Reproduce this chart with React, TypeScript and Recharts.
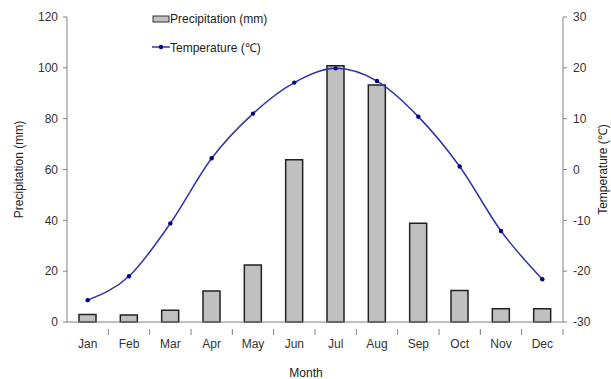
import { ComposedChart, Bar, Line, XAxis, YAxis } from "recharts";

const months = ["Jan", "Feb", "Mar", "Apr", "May", "Jun", "Jul", "Aug", "Sep", "Oct", "Nov", "Dec"];
const precipitation = [3.0, 2.8, 4.6, 12.2, 22.4, 63.8, 100.8, 93.2, 38.9, 12.4, 5.2, 5.2];
const temperature = [-25.7, -21.0, -10.6, 2.2, 11.0, 17.1, 19.9, 17.4, 10.4, 0.6, -12.1, -21.6];
const precipTicks = [0, 20, 40, 60, 80, 100, 120];
const tempTicks = [-30, -20, -10, 0, 10, 20, 30];

const data = months.map((m, i) => ({ month: m, precip: precipitation[i], temp: temperature[i] }));

const W = 611;
const H = 379;
const LEFT_W = 67;
const RIGHT_W = 48;
const STEP = (W - LEFT_W - RIGHT_W) / months.length;
const FONT = "'Liberation Sans', Arial, sans-serif";

function MonthTick(props: any) {
  const { x, y, payload } = props;
  return (
    <g>
      <line x1={x + STEP / 2} y1={y - 1} x2={x + STEP / 2} y2={y + 5} stroke="#808080" strokeWidth={1} />
      <text x={x} y={y + 18} textAnchor="middle" fontSize={12} fill="#333" fontFamily={FONT}>
        {payload.value}
      </text>
    </g>
  );
}

function LegendBox() {
  return (
    <div style={{ fontFamily: FONT, fontSize: 12, color: "#222" }}>
      <div style={{ display: "flex", alignItems: "center", height: 18 }}>
        <svg width={18} height={10}>
          <rect x={1} y={2} width={16} height={6} fill="#c0c0c0" stroke="#333" strokeWidth={1} />
        </svg>
        <span>Precipitation (mm)</span>
      </div>
      <div style={{ display: "flex", alignItems: "center", height: 18, marginTop: 10 }}>
        <svg width={18} height={10}>
          <line x1={0} y1={5} x2={18} y2={5} stroke="#3333a8" strokeWidth={1.5} />
          <circle cx={9} cy={5} r={2.2} fill="#000080" />
        </svg>
        <span>Temperature (℃)</span>
      </div>
    </div>
  );
}

export default function App() {
  return (
    <div style={{ position: "absolute", left: 0, top: 0, width: W, height: H, background: "#fff" }}>
      <ComposedChart width={W} height={H} data={data} margin={{ top: 17, right: 0, bottom: 0, left: 0 }}>
        <XAxis
          dataKey="month"
          height={57}
          stroke="#808080"
          tickLine={false}
          tick={<MonthTick />}
          interval={0}
          label={{ value: "Month", position: "center", dx: -9, dy: 22, fontSize: 12, fill: "#222", fontFamily: FONT }}
        />
        <YAxis
          yAxisId="p"
          width={LEFT_W}
          domain={[0, 120]}
          ticks={precipTicks}
          stroke="#808080"
          tickSize={4}
          tickMargin={5}
          tick={{ fontSize: 12, fill: "#333", fontFamily: FONT }}
          label={{ value: "Precipitation (mm)", angle: -90, position: "center", dx: -15, fontSize: 12, fill: "#222", fontFamily: FONT }}
        />
        <YAxis
          yAxisId="t"
          orientation="right"
          width={RIGHT_W}
          domain={[-30, 30]}
          ticks={tempTicks}
          stroke="#808080"
          tickSize={4}
          tickMargin={6}
          tick={{ fontSize: 12, fill: "#333", fontFamily: FONT }}
          label={{ value: "Temperature (℃)", angle: -90, position: "center", dx: 16, fontSize: 12, fill: "#222", fontFamily: FONT }}
        />
        <Bar
          yAxisId="p"
          dataKey="precip"
          barSize={17}
          fill="#c0c0c0"
          stroke="#222"
          strokeWidth={1.5}
          isAnimationActive={false}
        />
        <Line
          yAxisId="t"
          dataKey="temp"
          type="monotone"
          stroke="#3333a8"
          strokeWidth={1.5}
          dot={{ r: 2.2, fill: "#000080", stroke: "#000080", strokeWidth: 0 }}
          activeDot={false}
          isAnimationActive={false}
        />
      </ComposedChart>
      <div style={{ position: "absolute", left: 152, top: 10 }}>
        <LegendBox />
      </div>
    </div>
  );
}
